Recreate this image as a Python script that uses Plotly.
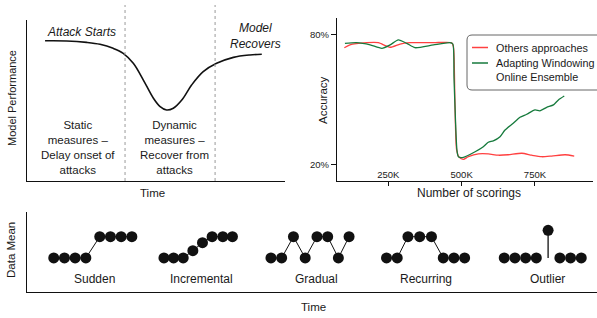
import plotly.graph_objects as go

W, H = 597, 318
FONT = "Liberation Sans, Arial, Helvetica, sans-serif"
INK = "#1a1a1a"

# ---------------- Data ----------------
# Panel A: conceptual model-performance curve over time (0..1 scale)
perf_time = [0.070, 0.154, 0.231, 0.283, 0.334, 0.373, 0.412, 0.451, 0.490, 0.516,
             0.541, 0.567, 0.600, 0.638, 0.683, 0.735, 0.800, 0.864, 0.910]
perf_value = [0.871, 0.870, 0.861, 0.849, 0.824, 0.793, 0.731, 0.627, 0.514, 0.462,
              0.441, 0.452, 0.503, 0.596, 0.679, 0.731, 0.768, 0.783, 0.787]
phase_bounds = [0.380, 0.729]

# Panel B: accuracy vs number of scorings (thousands)
others_x = [100, 119, 176, 216, 256, 290, 324, 404, 466, 472, 477, 483, 492, 506, 523,
            557, 591, 625, 659, 705, 739, 773, 807, 853, 884]
others_y = [73.8, 75.1, 76.1, 76.1, 74.0, 75.5, 76.1, 76.1, 76.1, 74.3, 49.7, 26.6, 23.2,
            22.3, 23.5, 24.8, 24.8, 24.2, 24.4, 25.1, 24.2, 23.5, 23.8, 24.4, 23.8]
awe_x = [102, 142, 188, 228, 256, 284, 313, 341, 404, 460, 470, 474, 479, 484, 489, 506,
         546, 574, 591, 608, 631, 648, 676, 699, 722, 750, 767, 790, 813, 830, 850]
awe_y = [75.8, 76.1, 75.1, 73.5, 75.1, 77.4, 75.8, 73.8, 75.1, 76.1, 75.5, 60.0, 40.4,
         26.6, 23.5, 23.2, 25.8, 28.1, 30.2, 30.8, 32.7, 35.8, 38.9, 41.7, 43.1, 45.1,
         44.7, 46.3, 47.4, 49.7, 51.5]
acc_tickvals = [20, 80]
scoring_tickvals = [250, 500, 750]

# Panel C: drift patterns (time step, data-mean level)
sudden_t = [2.5, 3.5, 4.5, 5.5, 6.8, 7.8, 8.8, 9.8]
sudden_v = [0, 0, 0, 0, 1, 1, 1, 1]
incr_t = [12.8, 13.7, 14.6, 15.5, 16.4, 17.3, 18.3, 19.2]
incr_v = [0, 0, 0, 0.34, 0.72, 1, 1, 1]
grad_t = [22.8, 23.8, 24.9, 26.0, 27.1, 28.1, 29.1, 30.1]
grad_v = [0, 0, 1, 0, 1, 1, 0, 1]
recur_t = [33.6, 34.6, 35.6, 36.7, 37.8, 38.9, 39.9, 40.9]
recur_v = [0, 0, 1, 1, 1, 0, 0, 0]
outl_t = [44.6, 45.6, 46.6, 47.6, 48.7, 49.8, 50.8, 51.8]
outl_v = [0, 0, 0, 0, 1.3, 0, 0, 0]
pattern_names = ["Sudden", "Incremental", "Gradual", "Recurring", "Outlier"]

# ---------------- Figure ----------------
def px_x(p):
    return p / W

def px_y(p):
    return 1 - p / H

fig = go.Figure()

# Panel A
fig.add_trace(go.Scatter(x=perf_time, y=perf_value, mode="lines",
                         line=dict(color="#111", width=1.6, shape="spline", smoothing=1.0),
                         xaxis="x", yaxis="y", showlegend=False, hoverinfo="skip"))

# Panel B
fig.add_trace(go.Scatter(x=others_x, y=others_y, mode="lines", name="Others approaches",
                         line=dict(color="#ff4040", width=1.3, shape="spline", smoothing=0.6),
                         xaxis="x2", yaxis="y2", showlegend=False))
fig.add_trace(go.Scatter(x=awe_x, y=awe_y, mode="lines", name="Adapting Windowing Online Ensemble",
                         line=dict(color="#167a3c", width=1.3, shape="spline", smoothing=0.6),
                         xaxis="x2", yaxis="y2", showlegend=False))

# Panel C
dot = dict(color="#111", size=11)
for t, v in [(sudden_t, sudden_v), (incr_t, incr_v), (grad_t, grad_v), (recur_t, recur_v)]:
    fig.add_trace(go.Scatter(x=t, y=v, mode="lines+markers", marker=dot,
                             line=dict(color="#111", width=1),
                             xaxis="x3", yaxis="y3", showlegend=False, hoverinfo="skip"))
# outlier stem
oi = outl_v.index(max(outl_v))
fig.add_trace(go.Scatter(x=[outl_t[oi], outl_t[oi]], y=[0, outl_v[oi]], mode="lines",
                         line=dict(color="#111", width=1.3),
                         xaxis="x3", yaxis="y3", showlegend=False, hoverinfo="skip"))
fig.add_trace(go.Scatter(x=outl_t, y=outl_v, mode="markers", marker=dot,
                         xaxis="x3", yaxis="y3", showlegend=False, hoverinfo="skip"))

axline = dict(showline=True, linecolor="#111", linewidth=1.4, showgrid=False,
              zeroline=False, mirror=False, automargin=False)

fig.update_layout(
    template="none",
    width=W, height=H,
    margin=dict(l=0, r=0, t=0, b=0, pad=0),
    paper_bgcolor="white", plot_bgcolor="white",
    font=dict(family=FONT, color=INK, size=12),
    xaxis=dict(domain=[px_x(27), px_x(285)], range=[0, 1], showticklabels=False,
               ticks="", anchor="y", **axline),
    yaxis=dict(domain=[px_y(181), px_y(20)], range=[0, 1], showticklabels=False,
               ticks="", anchor="x", **axline),
    xaxis2=dict(domain=[px_x(337), px_x(593)], range=[75, 948], anchor="y2",
                tickmode="array", tickvals=scoring_tickvals,
                ticktext=[f"{v}K" for v in scoring_tickvals],
                ticks="outside", ticklen=4, tickwidth=1.2, tickcolor="#111",
                ticklabelposition="inside", tickfont=dict(size=9.5, color=INK), **axline),
    yaxis2=dict(domain=[px_y(181), px_y(18)], range=[12.3, 87.5], anchor="x2",
                tickmode="array", tickvals=acc_tickvals,
                ticktext=[f"{v}%" for v in acc_tickvals],
                ticks="outside", ticklen=5, tickwidth=1.2, tickcolor="#111",
                tickfont=dict(size=9.5, color=INK), **axline),
    xaxis3=dict(domain=[px_x(27), 1.0], range=[0, 53.27], showticklabels=False,
                ticks="", anchor="y3", **axline),
    yaxis3=dict(domain=[px_y(292), px_y(212)], range=[-1.6, 2.16], showticklabels=False,
                ticks="", anchor="x3", **axline),
)

shapes = []
for b in phase_bounds:
    shapes.append(dict(type="line", xref="x", yref="paper", x0=b, x1=b,
                       y0=px_y(181), y1=px_y(5),
                       line=dict(color="#9a9a9a", width=1, dash="dot")))

# legend box (rounded)
x0, x1, y0, y1, r = 467, 606, 35, 90, 5
path = (f"M {px_x(x0 + r)},{px_y(y0)} L {px_x(x1 - r)},{px_y(y0)} "
        f"Q {px_x(x1)},{px_y(y0)} {px_x(x1)},{px_y(y0 + r)} "
        f"L {px_x(x1)},{px_y(y1 - r)} Q {px_x(x1)},{px_y(y1)} {px_x(x1 - r)},{px_y(y1)} "
        f"L {px_x(x0 + r)},{px_y(y1)} Q {px_x(x0)},{px_y(y1)} {px_x(x0)},{px_y(y1 - r)} "
        f"L {px_x(x0)},{px_y(y0 + r)} Q {px_x(x0)},{px_y(y0)} {px_x(x0 + r)},{px_y(y0)} Z")
shapes.append(dict(type="path", xref="paper", yref="paper", path=path,
                   line=dict(color="#666", width=1), fillcolor="rgba(255,255,255,0)"))
shapes.append(dict(type="line", xref="paper", yref="paper", x0=px_x(472), x1=px_x(488),
                   y0=px_y(47.5), y1=px_y(47.5), line=dict(color="#ff4040", width=1.5)))
shapes.append(dict(type="line", xref="paper", yref="paper", x0=px_x(472), x1=px_x(488),
                   y0=px_y(63), y1=px_y(63), line=dict(color="#167a3c", width=1.5)))
fig.update_layout(shapes=shapes)

def ann(text, x, y, size=12, xanchor="center", align="center", angle=0):
    return dict(text=text, x=px_x(x), y=px_y(y), xref="paper", yref="paper",
                xanchor=xanchor, yanchor="middle", align=align, showarrow=False,
                textangle=angle, font=dict(size=size, color=INK, family=FONT))

anns = [
    ann("<i>Attack Starts</i>", 45, 32, xanchor="left", align="left"),
    ann("<i>Model<br>Recovers</i>", 255, 36),
    ann("Static<br>measures –<br>Delay onset of<br>attacks", 78, 147, size=11.5),
    ann("Dynamic<br>measures –<br>Recover from<br>attacks", 174, 147, size=11.5),
    ann("Time", 152, 193, size=11.5),
    ann("Model Performance", 12, 98, size=11, angle=-90),
    ann("Accuracy", 323, 100, size=11.5, angle=-90),
    ann("Number of scorings", 469, 193, size=12),
    ann("Others approaches", 494, 47.5, size=10.8, xanchor="left", align="left"),
    ann("Adapting Windowing<br>Online Ensemble", 494, 70, size=10.8, xanchor="left", align="left"),
    ann("Data Mean", 11, 250, size=11.5, angle=-90),
    ann("Time", 313, 307, size=11.5),
]
for name, cx in zip(pattern_names, [94, 201, 316, 426, 547]):
    anns.append(ann(name, cx, 278.5, size=12))
fig.update_layout(annotations=anns)

fig.write_html("out.html",
               config={"displayModeBar": False},
               post_script="document.body.style.margin='0';document.body.style.padding='0';"
                           "document.body.style.overflow='hidden';")
